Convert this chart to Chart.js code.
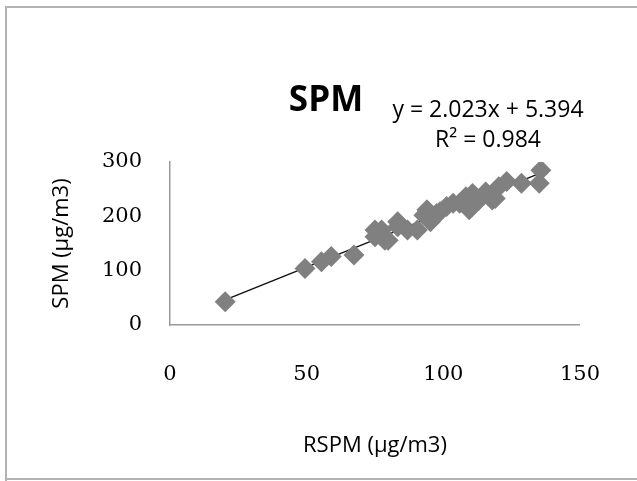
<!DOCTYPE html>
<html lang="en">
<head>
  <meta charset="UTF-8">
  <title>SPM vs RSPM</title>
  <script src="https://cdn.jsdelivr.net/npm/chart.js"></script>
  <style>
    html, body { margin: 0; padding: 0; background: #fff; }
    #wrap { width: 637px; height: 481px; position: relative; }
  </style>
</head>
<body>
  <div id="wrap">
    <canvas id="spmChart" width="637" height="481"></canvas>
  </div>

  <script>
    // RSPM (x) and SPM (y) readings, µg/m3
    const rspm = [20.2, 49.4, 55.4, 59, 67.3, 75, 78.6, 77.4, 83.3, 86.9, 90.5, 92.9, 95.3, 98.8,
                  101.2, 106, 108.3, 109.5, 113.1, 115.5, 119, 120.3, 123.2, 128.6, 135.7, 135.1,
                  75, 83.3, 94, 103.6, 110.7, 117.9, 79.8, 97.6];
    const spm = [43, 104, 116.5, 126, 129, 162.5, 156, 175, 181, 175, 175, 202, 190, 208.5,
                 218, 224, 236, 212, 230, 245, 233, 254.5, 264, 261, 285, 261,
                 175, 190, 212, 224, 242, 230, 156, 205];

    // linear trendline ends (y = 2.023x + 5.394)
    const trendX = [20.2, 135.5];
    const trendY = [46.3, 279.5];

    const xTicks = [0, 50, 100, 150];
    const yTicks = [0, 100, 200, 300];

    const titleText = 'SPM';
    const eqText = 'y = 2.023x + 5.394';
    const r2Text = 'R² = 0.984';

    // frame, chart title and trendline label
    const decor = {
      id: 'decor',
      beforeDraw(chart) {
        const c = chart.ctx;
        c.save();
        c.fillStyle = '#fff';
        c.fillRect(0, 0, chart.width, chart.height);
        c.strokeStyle = '#b4b4b4';
        c.lineWidth = 2;
        c.beginPath();
        c.moveTo(6, 481);
        c.lineTo(6, 7);
        c.lineTo(637, 7);
        c.moveTo(6, 479);
        c.lineTo(637, 479);
        c.stroke();
        c.restore();
      },
      afterDraw(chart) {
        const c = chart.ctx;
        c.save();
        c.fillStyle = '#000';
        c.textAlign = 'center';
        c.textBaseline = 'middle';
        c.font = 'bold 35px "Open Sans"';
        c.fillText(titleText, 326, 101);
        c.font = '23px "Open Sans"';
        c.fillText(eqText, 488, 110);
        c.fillText(r2Text, 488, 140);
        c.restore();
      }
    };

    const tickFont = { family: 'DejaVu Serif', size: 21 };
    const titleFont = { family: 'Open Sans', size: 22 };

    new Chart(document.getElementById('spmChart'), {
      type: 'scatter',
      data: {
        datasets: [
          {
            label: 'SPM',
            data: rspm.map((x, i) => ({ x: x, y: spm[i] })),
            pointStyle: 'rectRot',
            pointRadius: 10.5,
            pointHoverRadius: 10.5,
            backgroundColor: '#808080',
            borderWidth: 0
          },
          {
            label: 'Linear (SPM)',
            type: 'line',
            data: trendX.map((x, i) => ({ x: x, y: trendY[i] })),
            borderColor: '#111',
            borderWidth: 1.5,
            pointRadius: 0,
            fill: false
          }
        ]
      },
      options: {
        responsive: false,
        animation: false,
        layout: { padding: { top: 162, right: 47, left: 0, bottom: 0 } },
        plugins: {
          legend: { display: false },
          tooltip: { enabled: false }
        },
        scales: {
          x: {
            type: 'linear',
            min: 0,
            max: 150,
            afterFit(scale) { scale.height = 156; },
            afterBuildTicks(scale) { scale.ticks = xTicks.map(v => ({ value: v })); },
            grid: { display: false, drawTicks: false },
            border: { display: true, color: '#9a9a9a', width: 1.5 },
            ticks: { font: tickFont, color: '#000', padding: 37 },
            title: { display: true, text: 'RSPM (µg/m3)', font: titleFont, color: '#000', padding: { top: 0, bottom: 22 } }
          },
          y: {
            type: 'linear',
            min: 0,
            max: 300,
            afterFit(scale) { scale.width = 170; },
            afterBuildTicks(scale) { scale.ticks = yTicks.map(v => ({ value: v })); },
            grid: { display: false, drawTicks: false },
            border: { display: true, color: '#9a9a9a', width: 1.5 },
            ticks: { font: tickFont, color: '#000', padding: 28 },
            title: { display: true, text: 'SPM (µg/m3)', font: titleFont, color: '#000', padding: { top: 49, bottom: 0 } }
          }
        }
      },
      plugins: [decor]
    });
  </script>
</body>
</html>
